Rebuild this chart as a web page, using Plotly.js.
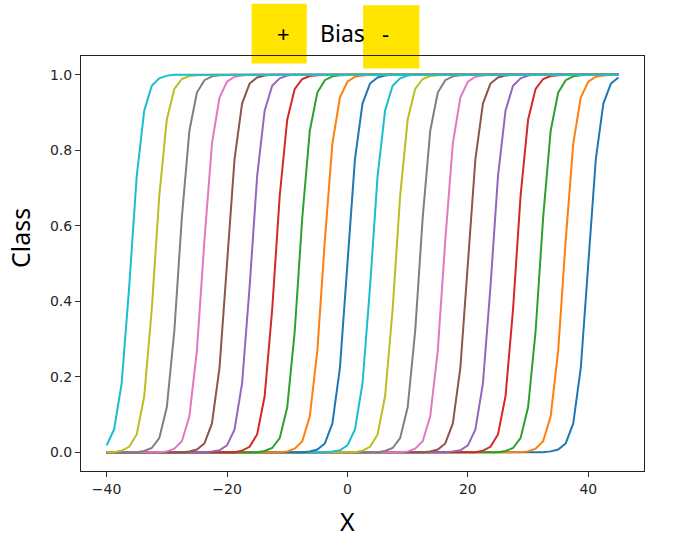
<!DOCTYPE html>
<html>
<head>
<meta charset="utf-8">
<script src="https://cdn.plot.ly/plotly-3.0.1.min.js"></script>
<style>html,body{margin:0;padding:0;background:#fff;}#chart{width:692px;height:546px;}</style>
</head>
<body>
<div id="chart"></div>
<script>
// x samples
const X = [-40,-38.75,-37.5,-36.25,-35,-33.75,-32.5,-31.25,-30,-28.75,
  -27.5,-26.25,-25,-23.75,-22.5,-21.25,-20,-18.75,-17.5,-16.25,
  -15,-13.75,-12.5,-11.25,-10,-8.75,-7.5,-6.25,-5,-3.75,
  -2.5,-1.25,0,1.25,2.5,3.75,5,6.25,7.5,8.75,
  10,11.25,12.5,13.75,15,16.25,17.5,18.75,20,21.25,
  22.5,23.75,25,26.25,27.5,28.75,30,31.25,32.5,33.75,
  35,36.25,37.5,38.75,40,41.25,42.5,43.75,45];

// Class values per bias (bias -40 ... +36)
const yBm40 = [0,0,0,0,0,0,0,0,0,0, 0,0,0,0,0,0,0,0,0,0, 0,0,0,0,0,0,0,0,0,0, 0,0,0,0,0,0,0,0,0,0, 0,0,0,0,0,0,0,0,0,0, 0,0,0,0,0,0,0,0,0,
  0.002,0.007,0.023,0.076,0.223,0.5,0.777,0.924,0.977,0.993];
const yBm36 = [0,0,0,0,0,0,0,0,0,0, 0,0,0,0,0,0,0,0,0,0, 0,0,0,0,0,0,0,0,0,0, 0,0,0,0,0,0,0,0,0,0, 0,0,0,0,0,0,0,0,0,0, 0,0,0,0,0,0,
  0.002,0.009,0.029,0.095,0.269,0.562,0.818,0.94,0.982,0.995,0.998, 1,1];
const yBm32 = [0,0,0,0,0,0,0,0,0,0, 0,0,0,0,0,0,0,0,0,0, 0,0,0,0,0,0,0,0,0,0, 0,0,0,0,0,0,0,0,0,0, 0,0,0,0,0,0,0,0,0,0, 0,0,0,
  0.003,0.011,0.037,0.119,0.321,0.622,0.852,0.953,0.986,0.996,0.999, 1,1,1,1,1];
const yBm28 = [0,0,0,0,0,0,0,0,0,0, 0,0,0,0,0,0,0,0,0,0, 0,0,0,0,0,0,0,0,0,0, 0,0,0,0,0,0,0,0,0,0, 0,0,0,0,0,0,0,0,0,0,
  0.004,0.014,0.047,0.148,0.378,0.679,0.881,0.963,0.989,0.997,0.999, 1,1,1,1,1,1,1,1];
const yBm24 = [0,0,0,0,0,0,0,0,0,0, 0,0,0,0,0,0,0,0,0,0, 0,0,0,0,0,0,0,0,0,0, 0,0,0,0,0,0,0,0,0,0, 0,0,0,0,0,0,
  0.002,0.005,0.018,0.06,0.182,0.438,0.731,0.905,0.971,0.991,0.998, 1,1,1,1,1,1,1,1,1,1, 1,1];
const yBm20 = [0,0,0,0,0,0,0,0,0,0, 0,0,0,0,0,0,0,0,0,0, 0,0,0,0,0,0,0,0,0,0, 0,0,0,0,0,0,0,0,0,0, 0,0,0,
  0.002,0.007,0.023,0.076,0.223,0.5,0.777,0.924,0.977,0.993,0.998, 1,1,1,1,1,1,1,1,1,1, 1,1,1,1,1];
const yBm16 = [0,0,0,0,0,0,0,0,0,0, 0,0,0,0,0,0,0,0,0,0, 0,0,0,0,0,0,0,0,0,0, 0,0,0,0,0,0,0,0,0,0,
  0.002,0.009,0.029,0.095,0.269,0.562,0.818,0.94,0.982,0.995,0.998, 1,1,1,1,1,1,1,1,1,1, 1,1,1,1,1,1,1,1];
const yBm12 = [0,0,0,0,0,0,0,0,0,0, 0,0,0,0,0,0,0,0,0,0, 0,0,0,0,0,0,0,0,0,0, 0,0,0,0,0,0,0,
  0.003,0.011,0.037,0.119,0.321,0.622,0.852,0.953,0.986,0.996,0.999, 1,1,1,1,1,1,1,1,1,1, 1,1,1,1,1,1,1,1,1,1, 1];
const yBm8 = [0,0,0,0,0,0,0,0,0,0, 0,0,0,0,0,0,0,0,0,0, 0,0,0,0,0,0,0,0,0,0, 0,0,0,0,
  0.004,0.014,0.047,0.148,0.378,0.679,0.881,0.963,0.989,0.997,0.999, 1,1,1,1,1,1,1,1,1,1, 1,1,1,1,1,1,1,1,1,1, 1,1,1,1];
const yBm4 = [0,0,0,0,0,0,0,0,0,0, 0,0,0,0,0,0,0,0,0,0, 0,0,0,0,0,0,0,0,0,0,
  0.002,0.005,0.018,0.06,0.182,0.438,0.731,0.905,0.971,0.991,0.998, 1,1,1,1,1,1,1,1,1,1, 1,1,1,1,1,1,1,1,1,1, 1,1,1,1,1,1,1,1];
const yB0 = [0,0,0,0,0,0,0,0,0,0, 0,0,0,0,0,0,0,0,0,0, 0,0,0,0,0,0,0,
  0.002,0.007,0.023,0.076,0.223,0.5,0.777,0.924,0.977,0.993,0.998, 1,1,1,1,1,1,1,1,1,1, 1,1,1,1,1,1,1,1,1,1, 1,1,1,1,1,1,1,1,1,1, 1];
const yBp4 = [0,0,0,0,0,0,0,0,0,0, 0,0,0,0,0,0,0,0,0,0, 0,0,0,0,
  0.002,0.009,0.029,0.095,0.269,0.562,0.818,0.94,0.982,0.995,0.998, 1,1,1,1,1,1,1,1,1,1, 1,1,1,1,1,1,1,1,1,1, 1,1,1,1,1,1,1,1,1,1, 1,1,1,1];
const yBp8 = [0,0,0,0,0,0,0,0,0,0, 0,0,0,0,0,0,0,0,0,0, 0,
  0.003,0.011,0.037,0.119,0.321,0.622,0.852,0.953,0.986,0.996,0.999, 1,1,1,1,1,1,1,1,1,1, 1,1,1,1,1,1,1,1,1,1, 1,1,1,1,1,1,1,1,1,1, 1,1,1,1,1,1,1];
const yBp12 = [0,0,0,0,0,0,0,0,0,0, 0,0,0,0,0,0,0,0,
  0.004,0.014,0.047,0.148,0.378,0.679,0.881,0.963,0.989,0.997,0.999, 1,1,1,1,1,1,1,1,1,1, 1,1,1,1,1,1,1,1,1,1, 1,1,1,1,1,1,1,1,1,1, 1,1,1,1,1,1,1,1,1,1];
const yBp16 = [0,0,0,0,0,0,0,0,0,0, 0,0,0,0,
  0.002,0.005,0.018,0.06,0.182,0.438,0.731,0.905,0.971,0.991,0.998, 1,1,1,1,1,1,1,1,1,1, 1,1,1,1,1,1,1,1,1,1, 1,1,1,1,1,1,1,1,1,1, 1,1,1,1,1,1,1,1,1,1, 1,1,1,1];
const yBp20 = [0,0,0,0,0,0,0,0,0,0, 0,
  0.002,0.007,0.023,0.076,0.223,0.5,0.777,0.924,0.977,0.993,0.998, 1,1,1,1,1,1,1,1,1,1, 1,1,1,1,1,1,1,1,1,1, 1,1,1,1,1,1,1,1,1,1, 1,1,1,1,1,1,1,1,1,1, 1,1,1,1,1,1,1];
const yBp24 = [0,0,0,0,0,0,0,0,
  0.002,0.009,0.029,0.095,0.269,0.562,0.818,0.94,0.982,0.995,0.998, 1,1,1,1,1,1,1,1,1,1, 1,1,1,1,1,1,1,1,1,1, 1,1,1,1,1,1,1,1,1,1, 1,1,1,1,1,1,1,1,1,1, 1,1,1,1,1,1,1,1,1,1];
const yBp28 = [0,0,0,0,0,
  0.003,0.011,0.037,0.119,0.321,0.622,0.852,0.953,0.986,0.996,0.999, 1,1,1,1,1,1,1,1,1,1, 1,1,1,1,1,1,1,1,1,1, 1,1,1,1,1,1,1,1,1,1, 1,1,1,1,1,1,1,1,1,1, 1,1,1,1,1,1,1,1,1,1, 1,1,1];
const yBp32 = [0,0,
  0.004,0.014,0.047,0.148,0.378,0.679,0.881,0.963,0.989,0.997,0.999, 1,1,1,1,1,1,1,1,1,1, 1,1,1,1,1,1,1,1,1,1, 1,1,1,1,1,1,1,1,1,1, 1,1,1,1,1,1,1,1,1,1, 1,1,1,1,1,1,1,1,1,1, 1,1,1,1,1,1];
const yBp36 = [0.018,0.06,0.182,0.438,0.731,0.905,0.971,0.991,0.998, 1,1,1,1,1,1,1,1,1,1, 1,1,1,1,1,1,1,1,1,1, 1,1,1,1,1,1,1,1,1,1, 1,1,1,1,1,1,1,1,1,1, 1,1,1,1,1,1,1,1,1,1, 1,1,1,1,1,1,1,1,1,1];

const xTicks = [-40, -20, 0, 20, 40];
const yTicks = [0, 0.2, 0.4, 0.6, 0.8, 1.0];

const palette = ['#1f77b4','#ff7f0e','#2ca02c','#d62728','#9467bd','#8c564b','#e377c2','#7f7f7f','#bcbd22','#17becf'];

const series = [yBm40,yBm36,yBm32,yBm28,yBm24,yBm20,yBm16,yBm12,yBm8,yBm4,
                yB0,yBp4,yBp8,yBp12,yBp16,yBp20,yBp24,yBp28,yBp32,yBp36];
series.forEach((s, i) => { if (s.length !== X.length) throw new Error('series ' + i + ' length ' + s.length); });

const traces = series.map((ys, i) => ({
  x: X, y: ys, type: 'scatter', mode: 'lines',
  line: {color: palette[i % 10], width: 2},
  showlegend: false, hoverinfo: 'skip'
}));

const axisCommon = {
  showline: true, mirror: true, linecolor: '#222', linewidth: 1,
  ticks: 'outside', ticklen: 5, tickwidth: 1, tickcolor: '#333',
  showgrid: false, zeroline: false,
  tickfont: {family: 'DejaVu Sans', size: 14, color: '#262626'}
};

const yellow = '#FFE500';
const layout = {
  width: 692, height: 546,
  margin: {l: 81, r: 48, t: 56, b: 75},
  paper_bgcolor: '#fff', plot_bgcolor: '#fff',
  xaxis: Object.assign({}, axisCommon, {range: [-44.25, 49.25], tickvals: xTicks}),
  yaxis: Object.assign({}, axisCommon, {range: [-0.05, 1.05], tickvals: yTicks, tickformat: '.1f'}),
  shapes: [
    {type: 'rect', xref: 'paper', yref: 'paper', x0: 0.303, x1: 0.401, y0: 0.982, y1: 1.126,
     fillcolor: yellow, line: {width: 0}, layer: 'below'},
    {type: 'rect', xref: 'paper', yref: 'paper', x0: 0.501, x1: 0.601, y0: 0.970, y1: 1.122,
     fillcolor: yellow, line: {width: 0}, layer: 'below'}
  ],
  annotations: [
    {text: '+', xref: 'paper', yref: 'paper', x: 0.3605, y: 1.0554, showarrow: false,
     xanchor: 'center', yanchor: 'middle', font: {family: 'Noto Sans', size: 22, color: '#000'}},
    {text: 'Bias', xref: 'paper', yref: 'paper', x: 0.4640, y: 1.0554, showarrow: false,
     xanchor: 'center', yanchor: 'middle', font: {family: 'Noto Sans', size: 23, color: '#000'}},
    {text: '-', xref: 'paper', yref: 'paper', x: 0.5410, y: 1.0554, showarrow: false,
     xanchor: 'center', yanchor: 'middle', font: {family: 'Noto Sans', size: 22, color: '#000'}},
    {text: 'X', xref: 'paper', yref: 'paper', x: 0.4740, y: -0.1205, showarrow: false,
     xanchor: 'center', yanchor: 'middle', font: {family: 'Noto Sans', size: 25, color: '#000'}},
    {text: 'Class', xref: 'paper', yref: 'paper', x: -0.1083, y: 0.5614, showarrow: false,
     textangle: -90, xanchor: 'center', yanchor: 'middle', font: {family: 'Noto Sans', size: 25, color: '#000'}}
  ]
};

Plotly.newPlot('chart', traces, layout, {displayModeBar: false, staticPlot: true});
</script>
</body>
</html>
